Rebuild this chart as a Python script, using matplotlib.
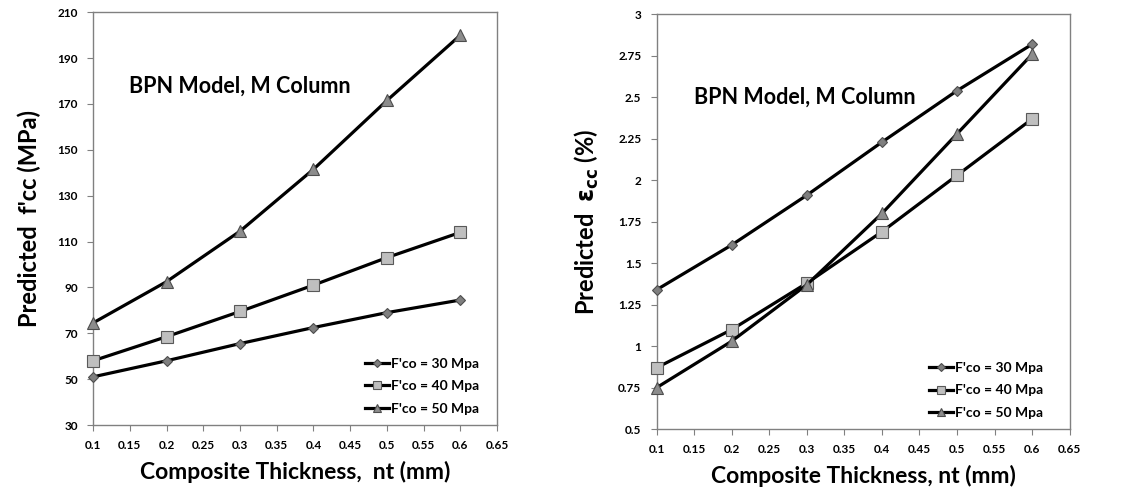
import matplotlib.pyplot as plt
import numpy as np

plt.rcParams["font.family"] = ["Lato", "DejaVu Sans"]

# data
thickness = [0.1, 0.2, 0.3, 0.4, 0.5, 0.6]
series_labels = ["F'co = 30 Mpa", "F'co = 40 Mpa", "F'co = 50 Mpa"]

fcc_30 = [51, 58, 65.5, 72.5, 79, 84.5]
fcc_40 = [58, 68.5, 79.5, 91, 103, 114]
fcc_50 = [74.5, 92.5, 114.5, 141.5, 171.5, 200]

ecc_30 = [1.34, 1.61, 1.91, 2.23, 2.54, 2.82]
ecc_40 = [0.87, 1.10, 1.38, 1.69, 2.03, 2.37]
ecc_50 = [0.75, 1.03, 1.37, 1.80, 2.28, 2.76]

x_ticks = [0.1, 0.15, 0.2, 0.25, 0.3, 0.35, 0.4, 0.45, 0.5, 0.55, 0.6, 0.65]
left_yticks = [30, 50, 70, 90, 110, 130, 150, 170, 190, 210]
right_yticks = [0.5, 0.75, 1, 1.25, 1.5, 1.75, 2, 2.25, 2.5, 2.75, 3]

styles = [
    dict(marker="D", markersize=5.5, markerfacecolor="#7f7f7f", markeredgecolor="#4d4d4d"),
    dict(marker="s", markersize=8.5, markerfacecolor="#bfbfbf", markeredgecolor="#595959"),
    dict(marker="^", markersize=8.5, markerfacecolor="#8c8c8c", markeredgecolor="#4d4d4d"),
]

fig = plt.figure(figsize=(11.32, 4.95), dpi=100)
ax1 = fig.add_axes([0.0822, 0.1414, 0.357, 0.834])
ax2 = fig.add_axes([0.580, 0.133, 0.365, 0.838])


def draw(ax, ys, yticks, xlabel, ylabel, title_xy, leg_x):
    for y, lab, st in zip(ys, series_labels, styles):
        ax.plot(thickness, y, color="black", linewidth=2.3, label=lab,
                markeredgewidth=0.8, clip_on=False, zorder=3, **st)
    ax.set_xlim(0.1, 0.65)
    ax.set_ylim(yticks[0], yticks[-1])
    ax.set_xticks(x_ticks)
    ax.set_xticklabels([f"{v:g}" for v in x_ticks], fontsize=8.5, fontweight="bold")
    ax.set_yticks(yticks)
    ax.set_yticklabels([f"{v:g}" for v in yticks], fontsize=8.5, fontweight="bold")
    ax.tick_params(direction="out", length=4, width=0.8, color="#808080", pad=7)
    for sp in ax.spines.values():
        sp.set_color("#808080")
        sp.set_linewidth(1.0)
    ax.set_xlabel(xlabel, fontsize=16.5, fontweight="bold", labelpad=7)
    ax.set_ylabel(ylabel, fontsize=17, fontweight="bold", labelpad=12)
    ax.text(title_xy[0], title_xy[1], "BPN Model, M Column", transform=ax.transAxes,
            fontsize=15.5, fontweight="bold", va="center", ha="left")
    ax.legend(loc="lower right", frameon=False, handlelength=1.7,
              prop=dict(size=10, weight="bold"), labelspacing=0.75,
              handletextpad=0.15, markerscale=0.75, borderpad=0, borderaxespad=0,
              bbox_to_anchor=(leg_x, 0.025))


draw(ax1, [fcc_30, fcc_40, fcc_50], left_yticks, "Composite Thickness,  nt (mm)",
     "Predicted  f'cc (MPa)", (0.09, 0.82), 0.955)
draw(ax2, [ecc_30, ecc_40, ecc_50], right_yticks, "Composite Thickness, nt (mm)",
     r"Predicted  $\mathbf{\varepsilon}_{\mathbf{cc}}$ (%)", (0.09, 0.80), 0.935)

fig.savefig("out.png", dpi=100)
